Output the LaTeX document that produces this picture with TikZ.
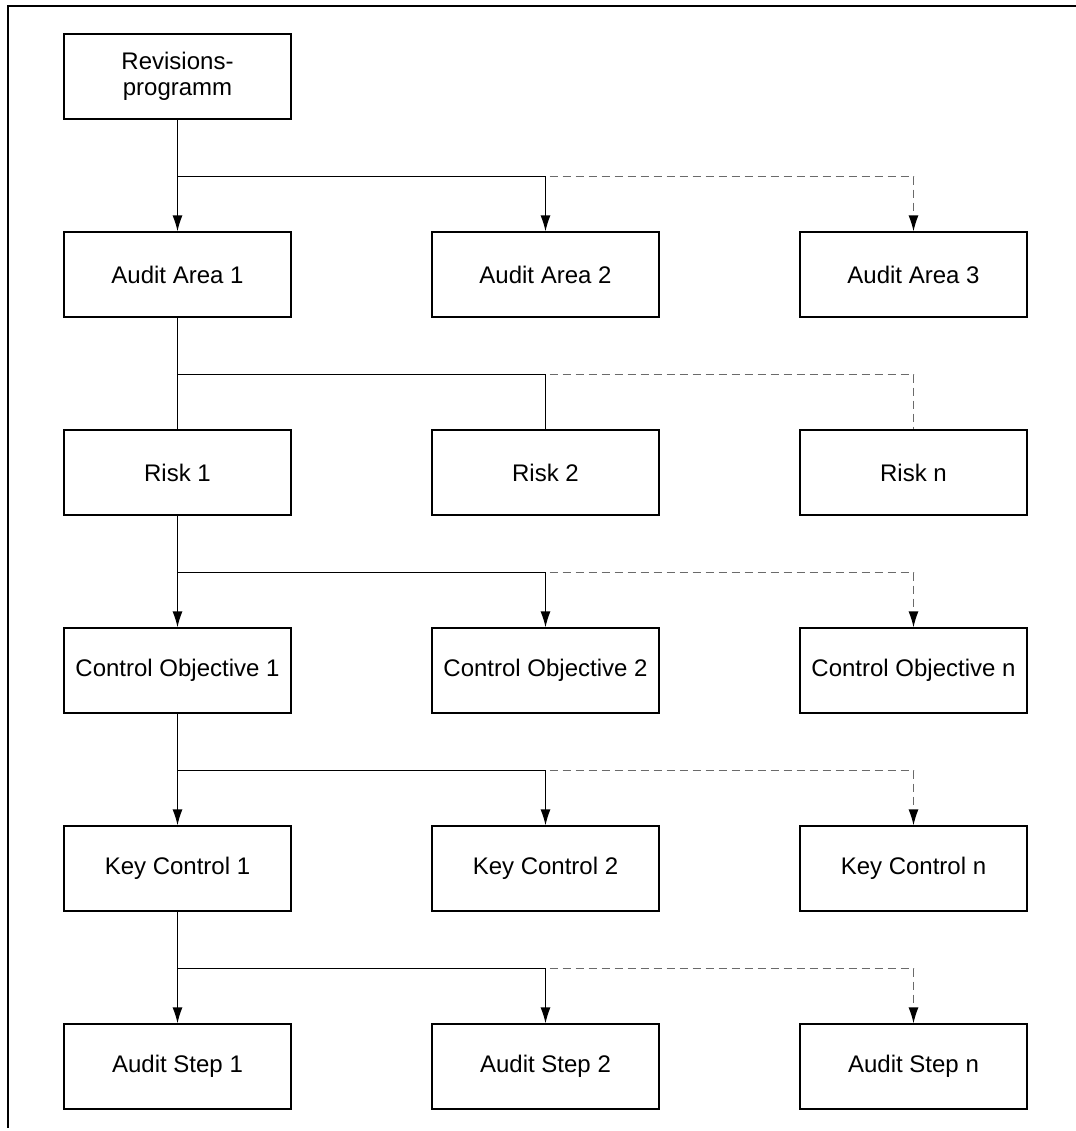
\documentclass[tikz,border=0pt]{standalone}
\usepackage{fontspec}
\setmainfont{Liberation Sans}
\usepackage{xcolor}
\usepackage{tikz}
\usetikzlibrary{calc,arrows.meta}
\definecolor{frameBlack}{HTML}{000000}
\definecolor{linkGrey}{HTML}{6A6A6A}
\tikzset{
  levelbox/.style={rectangle, draw=black, fill=white, line width=0.6pt, align=center, font=\fontsize{12}{12.8}\selectfont, minimum width=113.5pt, minimum height=42.5pt, inner sep=0pt},
  linkarrow/.style={-{Latex[length=8pt,width=5pt]}, line width=0.6pt, draw=black},
  linkplain/.style={line width=0.6pt, draw=black},
  linkdash/.style={line width=0.6pt, draw=linkGrey, dashed, dash pattern=on 4pt off 2.5pt},
  tipblack/.style={-{Latex[length=8pt,width=5pt,color=black]}},
}
\begin{document}
\begin{tikzpicture}[x=0.5pt,y=-0.5pt]
      \useasboundingbox (0,0) rectangle (1076,1131);
      % outer frame, open on the right and bottom
      \draw[line width=0.8pt, draw=frameBlack] (1076,6) -- (8,6) -- (8,1128);

      \node[levelbox] (rev) at (177.5,76.5) {Revisions-\\programm};

      \node[levelbox] (area1) at (177.5,274.5) {Audit Area 1};
      \node[levelbox] (area2) at (545.5,274.5) {Audit Area 2};
      \node[levelbox] (area3) at (913.5,274.5) {Audit Area 3};

      \node[levelbox] (risk1) at (177.5,472.5) {Risk 1};
      \node[levelbox] (risk2) at (545.5,472.5) {Risk 2};
      \node[levelbox] (riskn) at (913.5,472.5) {Risk n};

      \node[levelbox] (obj1) at (177.5,670.5) {Control Objective 1};
      \node[levelbox] (obj2) at (545.5,670.5) {Control Objective 2};
      \node[levelbox] (objn) at (913.5,670.5) {Control Objective n};

      \node[levelbox] (key1) at (177.5,868.5) {Key Control 1};
      \node[levelbox] (key2) at (545.5,868.5) {Key Control 2};
      \node[levelbox] (keyn) at (913.5,868.5) {Key Control n};

      \node[levelbox] (step1) at (177.5,1066.5) {Audit Step 1};
      \node[levelbox] (step2) at (545.5,1066.5) {Audit Step 2};
      \node[levelbox] (stepn) at (913.5,1066.5) {Audit Step n};

      % Revisionsprogramm -> audit areas
      \draw[linkdash, tipblack] (rev.south) -- ++(0,57) -| (area3.north);
      \draw[linkarrow] (rev.south) -- (area1.north);
      \draw[linkarrow] (rev.south) -- ++(0,57) -| (area2.north);

      % audit area -> risks (no tips)
      \draw[linkdash] (area1.south) -- ++(0,57) -| (riskn.north);
      \draw[linkplain] (area1.south) -- (risk1.north);
      \draw[linkplain] (area1.south) -- ++(0,57) -| (risk2.north);

      % risk -> control objectives
      \draw[linkdash, tipblack] (risk1.south) -- ++(0,57) -| (objn.north);
      \draw[linkarrow] (risk1.south) -- (obj1.north);
      \draw[linkarrow] (risk1.south) -- ++(0,57) -| (obj2.north);

      % control objective -> key controls
      \draw[linkdash, tipblack] (obj1.south) -- ++(0,57) -| (keyn.north);
      \draw[linkarrow] (obj1.south) -- (key1.north);
      \draw[linkarrow] (obj1.south) -- ++(0,57) -| (key2.north);

      % key control -> audit steps
      \draw[linkdash, tipblack] (key1.south) -- ++(0,57) -| (stepn.north);
      \draw[linkarrow] (key1.south) -- (step1.north);
      \draw[linkarrow] (key1.south) -- ++(0,57) -| (step2.north);
    \end{tikzpicture}
\end{document}
